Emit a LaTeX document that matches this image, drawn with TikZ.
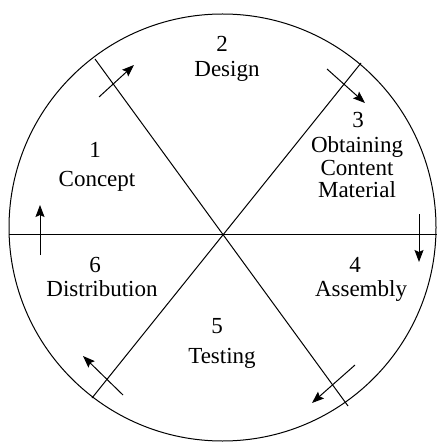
\documentclass[tikz,border=0pt]{standalone}
\usepackage{fontspec}
\setmainfont{Liberation Serif}
\usetikzlibrary{arrows.meta}

\tikzset{
  phase/.style={anchor=base, inner sep=0pt, font=\fontsize{23}{23}\selectfont},
  flow/.style={->, line width=1pt}
}

\begin{document}
\begin{tikzpicture}[x=1pt, y=-1pt, >={Stealth[length=12pt,width=9pt,inset=2pt]}, line width=1pt]
\useasboundingbox (0,0) rectangle (437,443);
% outer circle and dividing lines
\draw (222.5,227.5) circle[radius=213.5];
\coordinate (hl) at (9,234);
\coordinate (hr) at (437,234);
\coordinate (dul) at (95,59);
\coordinate (dlr) at (348,406);
\coordinate (dur) at (361,63);
\coordinate (dll) at (92,398);
\draw (hl) -- (hr);
\draw (dul) -- (dlr);
\draw (dur) -- (dll);
% phase labels
\node[phase] (n2) at (222,52) {2};
\node[phase] (l2) at (227,77) {Design};
\node[phase] (n3) at (358,128) {3};
\node[phase] (l3a) at (357,153) {Obtaining};
\node[phase] (l3b) at (357,176) {Content};
\node[phase] (l3c) at (357,198) {Material};
\node[phase] (n1) at (95,158) {1};
\node[phase] (l1) at (97,187) {Concept};
\node[phase] (n6) at (95,272) {6};
\node[phase] (l6) at (102,296) {Distribution};
\node[phase] (n4) at (355,272) {4};
\node[phase] (l4) at (361,296) {Assembly};
\node[phase] (n5) at (217,333) {5};
\node[phase] (l5) at (222,363) {Testing};
% direction arrows
\coordinate (a12s) at (99,97);   \coordinate (a12e) at (134,65);
\coordinate (a23s) at (327,69);  \coordinate (a23e) at (365,103);
\coordinate (a34s) at (419,214); \coordinate (a34e) at (419,262);
\coordinate (a45s) at (355,365); \coordinate (a45e) at (312,403);
\coordinate (a56s) at (123,395); \coordinate (a56e) at (83,356);
\coordinate (a61s) at (40,255);  \coordinate (a61e) at (40,205);
\draw[flow] (a12s) -- (a12e);
\draw[flow] (a23s) -- (a23e);
\draw[flow] (a34s) -- (a34e);
\draw[flow] (a45s) -- (a45e);
\draw[flow] (a56s) -- (a56e);
\draw[flow] (a61s) -- (a61e);
\end{tikzpicture}
\end{document}
